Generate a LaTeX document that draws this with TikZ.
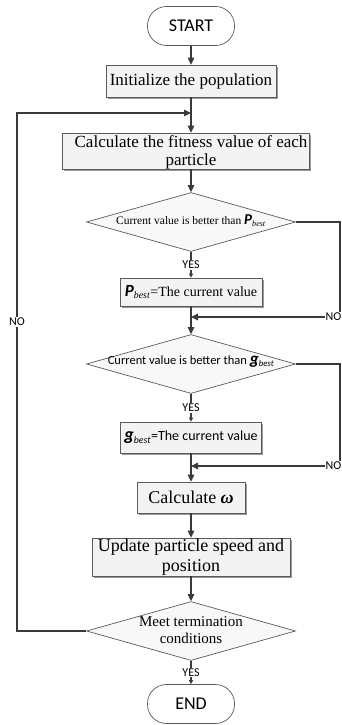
\documentclass[tikz,border=0pt]{standalone}
\usepackage{fontspec}
\setmainfont{Liberation Serif}
\setsansfont{Carlito}
\usepackage{tikz}
\usetikzlibrary{positioning,calc,shapes.geometric,arrows.meta,shadows}
\definecolor{flowLine}{HTML}{3A3A3A}
\definecolor{flowEdge}{HTML}{5A5A5A}
\definecolor{flowFill}{HTML}{F3F3F3}

\begin{document}
\begin{tikzpicture}[x=1pt,y=-1pt,
  line/.style={draw=flowLine,line width=1.1pt},
  arr/.style={line,-{Triangle[length=7pt,width=6.5pt]}},
  sarr/.style={line,-{Triangle[length=4pt,width=4pt]}},
  box/.style={draw=flowEdge,fill=flowFill,line width=0.7pt,inner sep=0pt,align=center,
    drop shadow={shadow xshift=1.6pt,shadow yshift=-1.6pt,fill=black!40,opacity=1}},
  term/.style={draw=flowEdge,fill=white,line width=0.7pt,rounded corners=19pt,
    minimum width=87pt,minimum height=39pt,font=\sffamily\fontsize{18}{20}\selectfont},
  decision/.style={diamond,draw=flowEdge,fill=flowFill!60,line width=0.7pt,inner sep=0pt,
    minimum width=209pt,minimum height=59pt},
  tag/.style={font=\sffamily\fontsize{12}{12}\selectfont,fill=white,inner sep=1pt}]
  \useasboundingbox (0,0) rectangle (342,725);
  % boxes
  \node[term] (start) at (191,26) {START};
  \node[box,minimum width=170pt,minimum height=32pt,font=\fontsize{17}{19}\selectfont] (init) at (191,81) {Initialize the population};
  \node[box,minimum width=247pt,minimum height=36pt] (calc) at (186,151) {};
  \node[align=center,font=\fontsize{17}{18}\selectfont,inner sep=0pt] (calctxt) at (191,152) {Calculate the fitness value of each\\particle};
  \node[decision] (d1) at (191,222) {};
  \node[font=\fontsize{11.5}{12}\selectfont,inner sep=0pt] (d1txt) at (191,221) {Current value is better than \textsf{\textbf{\textit{\fontsize{15}{15}\selectfont P}}}\textsubscript{\textit{best}}};
  \node[box,minimum width=142pt,minimum height=28pt,font=\fontsize{14}{16}\selectfont] (pbest) at (191,292) {\textsf{\textbf{\textit{\fontsize{17}{17}\selectfont P}}}\textsubscript{\textit{best}}=The current value};
  \node[decision] (d2) at (191,364) {};
  \node[font=\sffamily\fontsize{12.5}{13}\selectfont,inner sep=0pt] (d2txt) at (191,362) {Current value is better than \textbf{\textit{\fontsize{17}{17}\selectfont g}}\textsubscript{\textit{best}}};
  \node[box,minimum width=141pt,minimum height=31pt,font=\sffamily\fontsize{14}{16}\selectfont] (gbest) at (191,437.5) {\textbf{\textit{\fontsize{18}{18}\selectfont g}}\textsubscript{\textit{best}}=The current value};
  \node[box,minimum width=108pt,minimum height=31pt,font=\fontsize{18}{20}\selectfont] (omega) at (191,497.5) {Calculate \textbf{\textit{ω}}};
  \node[box,minimum width=198pt,minimum height=38pt,font=\fontsize{18}{20}\selectfont] (update) at (191,557) {Update particle speed and\\position};
  \node[decision] (d3) at (191,631) {};
  \node[align=center,font=\fontsize{15}{17}\selectfont,inner sep=0pt] (d3txt) at (191,630) {Meet termination\\conditions};
  \node[term] (end) at (191,704) {END};
  % joins
  \coordinate (join1) at (191,113);
  \coordinate (join2) at (191,317);
  \coordinate (join3) at (191,466);
  \coordinate (loopx) at (17,113);
  % connectors
  \draw[arr] (start) -- (init);
  \draw[arr] (init) -- (init.south |- calc.north);
  \draw[arr] (d1.north |- calc.south) -- (d1.north);
  \draw[sarr] (d1.south) -- node[tag] (yes1) {YES} (pbest.north);
  \draw[arr] (pbest) -- (d2);
  \draw[arr] (d1.east) -| (340,317) -- (join2);
  \draw[sarr] (d2.south) -- node[tag] (yes2) {YES} (gbest.north);
  \draw[arr] (gbest) -- (omega);
  \draw[arr] (d2.east) -| (340,466) -- (join3);
  \draw[arr] (omega) -- (update);
  \draw[arr] (update) -- (d3);
  \draw[sarr] (d3.south) -- node[tag] (yes3) {YES} (end.north);
  \draw[arr] (d3.west) -| (loopx) -- (join1);
  % NO labels
  \node[tag] (noloop) at (17,322) {NO};
  \node[tag,anchor=east,inner xsep=0.5pt] (no1) at (342,317) {NO};
  \node[tag,anchor=east,inner xsep=0.5pt] (no2) at (342,466) {NO};
\end{tikzpicture}
\end{document}
